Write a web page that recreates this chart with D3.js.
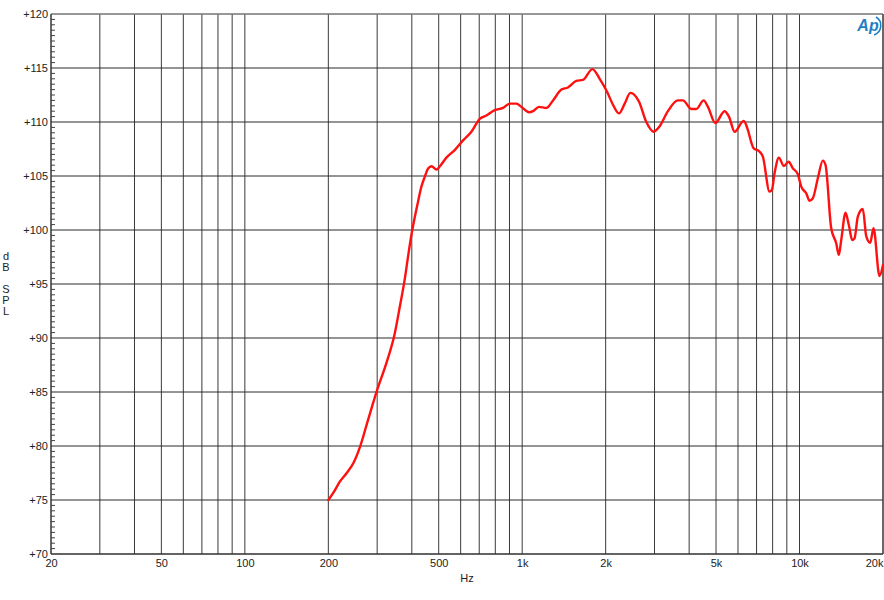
<!DOCTYPE html>
<html><head><meta charset="utf-8">
<script src="https://cdn.jsdelivr.net/npm/d3@7"></script>
<style>
html,body{margin:0;padding:0;background:#fff;}
svg{display:block;font-family:Arial,"Liberation Sans",sans-serif;}
</style></head>
<body><svg id="chart" width="884" height="600"></svg>
<script>
const freqs = [200,210,220,233,246,260,278,300,324,347,362,377,388,399,410,421,433,445,458,471,491,505,533,571,612,656,703,743,796,853,902,953,994,1058,1094,1150,1222,1292,1385,1462,1567,1656,1791,1903,2023,2125,2233,2342,2455,2636,2803,2978,3131,3353,3644,3799,4072,4245,4511,4675,4970,5368,5565,5834,6286,6428,6512,6830,7178,7376,7798,7950,8128,8424,8782,9132,9464,9863,10146,10574,10868,11170,11642,12134,12410,13010,13562,13858,14140,14652,15060,15490,15788,16228,16916,17400,17988,18486,19428,20000];
const splValues = [75.0,75.8,76.7,77.5,78.4,79.9,82.4,85.2,87.7,90.4,92.9,95.4,97.6,99.6,101.2,102.6,104.0,104.9,105.7,105.9,105.6,105.9,106.7,107.4,108.3,109.1,110.3,110.6,111.1,111.3,111.7,111.7,111.4,110.9,111.0,111.4,111.3,112.0,113.0,113.2,113.8,113.9,114.9,114.0,112.8,111.6,110.8,111.7,112.7,111.9,110.0,109.1,109.6,111.0,112.0,112.0,111.2,111.2,112.0,111.4,109.9,111.0,110.5,109.1,110.1,109.7,109.26,107.57,107.25,106.79,103.55,103.7,105.25,106.69,105.93,106.32,105.71,105.16,104.01,103.4,102.71,102.94,104.79,106.42,106.02,100.16,98.77,97.69,99.07,101.6,100.46,99.07,99.23,101.23,101.94,99.44,98.82,100.16,95.74,96.76];
const xTickValues = [20,50,100,200,500,1000,2000,5000,10000,20000];
const xTickLabels = ["20","50","100","200","500","1k","2k","5k","10k","20k"];
const xGridValues = [20,30,40,50,60,70,80,90,100,200,300,400,500,600,700,800,900,1000,2000,3000,4000,5000,6000,7000,8000,9000,10000,20000];
const yTickValues = [70,75,80,85,90,95,100,105,110,115,120];
const yTickLabels = ["+70","+75","+80","+85","+90","+95","+100","+105","+110","+115","+120"];
const yLabelLetters = ["d","B","","S","P","L"];
const xTitle = "Hz";

const svg = d3.select("#chart");
const L = 51, R = 883, T = 14, B = 554;
const x = d3.scaleLog().domain([20,20000]).range([L,R]);
const y = d3.scaleLinear().domain([70,120]).range([B,T]);

// vertical grid
svg.append("g").selectAll("line").data(xGridValues).join("line")
  .attr("x1", d=>x(d)).attr("x2", d=>x(d)).attr("y1", T).attr("y2", B)
  .attr("stroke", "#3a3a3a").attr("stroke-width", 1);
// horizontal grid
svg.append("g").selectAll("line").data(yTickValues).join("line")
  .attr("x1", L).attr("x2", R).attr("y1", d=>y(d)).attr("y2", d=>y(d))
  .attr("stroke", "#2a2a2a").attr("stroke-width", 1);
// top border lighter
svg.append("line").attr("x1",L).attr("x2",R).attr("y1",T).attr("y2",T).attr("stroke","#999").attr("stroke-width",1.2);
// minor ticks every 0.5 dB on left
const minor = d3.range(70, 120.01, 0.5).filter(v => v % 5 !== 0);
svg.append("g").selectAll("line").data(minor).join("line")
  .attr("x1", L).attr("x2", L+4).attr("y1", d=>y(d)).attr("y2", d=>y(d))
  .attr("stroke", "#444").attr("stroke-width", 1);

// y axis labels
const yAxis = d3.axisLeft(y).tickValues(yTickValues).tickSize(0).tickPadding(3)
  .tickFormat((d,i)=>yTickLabels[i]);
const gy = svg.append("g").attr("transform", `translate(${L},0)`).call(yAxis);
gy.select(".domain").remove();
gy.selectAll("text").attr("font-size", 11).attr("fill", "#222").attr("font-family","Arial,'Liberation Sans',sans-serif");

// x axis labels
const xAxis = d3.axisBottom(x).tickValues(xTickValues).tickSize(0).tickPadding(5)
  .tickFormat((d,i)=>xTickLabels[i]);
const gx = svg.append("g").attr("transform", `translate(0,${B})`).call(xAxis);
gx.select(".domain").remove();
gx.selectAll("text").attr("font-size", 11).attr("fill", "#222").attr("font-family","Arial,'Liberation Sans',sans-serif");
gx.selectAll("text").filter(d=>d===20000).attr("text-anchor","end").attr("dx", 0);

svg.append("text").attr("x", 467).attr("y", 582).attr("text-anchor","middle")
  .attr("font-size", 11).attr("fill","#222").text(xTitle);

svg.append("g").selectAll("text").data(yLabelLetters).join("text")
  .attr("x", 6).attr("y", (d,i)=>260 + i*11).attr("text-anchor","middle")
  .attr("font-size", 11).attr("fill","#222").text(d=>d);

// frame left/bottom/right
svg.append("line").attr("x1",L).attr("x2",L).attr("y1",T).attr("y2",B).attr("stroke","#333");
svg.append("line").attr("x1",L).attr("x2",R).attr("y1",B).attr("y2",B).attr("stroke","#333");
svg.append("line").attr("x1",R).attr("x2",R).attr("y1",T).attr("y2",B).attr("stroke","#333");

// curve
const data = freqs.map((f,i)=>({f, v: splValues[i]}));
const line = d3.line().x(d=>x(d.f)).y(d=>y(d.v)).curve(d3.curveMonotoneX);
svg.append("path").datum(data).attr("d", line)
  .attr("fill","none").attr("stroke","#ff1010").attr("stroke-width",2.4)
  .attr("stroke-linejoin","round").attr("stroke-linecap","round");

// Ap logo
const logo = svg.append("g").attr("transform","translate(869,26)");
logo.append("text").attr("x",-1).attr("y",5).attr("text-anchor","middle")
  .attr("font-size",16).attr("font-style","italic").attr("font-weight","bold").attr("fill","#1f7fc4")
  .attr("font-family","Arial,'Liberation Sans',sans-serif").text("Ap");
logo.append("path").attr("d","M7,-9 A10,10 0 0 1 5,9").attr("fill","none")
  .attr("stroke","#1f7fc4").attr("stroke-width",1.5);
</script></body></html>
